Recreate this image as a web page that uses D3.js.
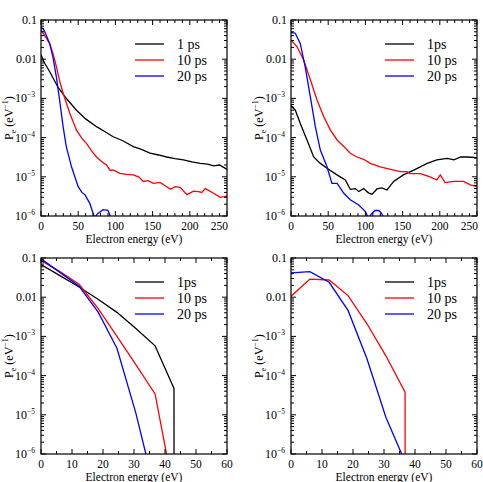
<!DOCTYPE html>
<html>
<head>
<meta charset="utf-8">
<script src="https://cdn.jsdelivr.net/npm/d3@7"></script>
<style>
  body { margin: 0; background: #fff; }
</style>
</head>
<body>
<svg id="chart" width="483" height="482" font-family="'Liberation Serif', 'Times New Roman', serif"></svg>
<script>
// series: [energy (eV), P_e (eV^-1)]
var seriesNames = ["1 ps", "10 ps", "20 ps"];
var seriesNames2 = ["1ps", "10 ps", "20 ps"];
var colors = ["#000000", "#ff0000", "#0000ff"];

var yTickValues = [1e-6, 1e-5, 1e-4, 1e-3, 0.01, 0.1];
var yTickLabels = ["10-6", "10-5", "10-4", "10-3", "0.01", "0.1"];

// panel a (top left)
var a_1ps = [[0,0.0129],[5,0.0079],[11.7,0.0048],[23,0.0019],[35,0.00095],[47.7,5.0e-4],[60,3.0e-4],[74.6,1.9e-4],[85,1.45e-4],[97,1.05e-4],[110,8.3e-5],[124,5.9e-5],[135,5.0e-5],[146.6,4.0e-5],[158,3.6e-5],[169,3.2e-5],[180,2.9e-5],[191.5,2.7e-5],[203,2.4e-5],[214,2.2e-5],[224,2.1e-5],[232,1.9e-5],[240,2.0e-5],[250,1.55e-5]];
var a_10ps = [[0,0.056],[5,0.040],[11.7,0.025],[16,0.014],[20.7,0.0065],[25,0.0028],[29.7,0.00135],[38.7,4.2e-4],[47.7,1.55e-4],[55,9.5e-5],[61,7.1e-5],[68,4.6e-5],[74.6,3.2e-5],[81,2.5e-5],[88,2.0e-5],[93,1.45e-5],[97,1.5e-5],[106,1.23e-5],[115,1.15e-5],[124,1.12e-5],[131,1.0e-5],[137.6,7.6e-6],[144,8.0e-6],[151,6.8e-6],[160,7.2e-6],[169,5.6e-6],[174,4.8e-6],[180,5.6e-6],[187,5.4e-6],[196,3.5e-6],[205,4.3e-6],[212,4.2e-6],[216,4.0e-6],[221,5.0e-6],[232,3.8e-6],[241,3.0e-6],[250,3.2e-6]];
var a_20ps = [[0,0.068],[4,0.055],[7.2,0.040],[11.7,0.025],[16,0.0115],[20.7,0.0035],[25,9.1e-4],[29.7,1.9e-4],[34,5.9e-5],[41,1.8e-5],[50,5.6e-6],[55,4.0e-6],[59,3.5e-6],[65.6,2.1e-6],[72,9.0e-7],[76,1.15e-6],[83.6,1.45e-6],[90,1.4e-6],[93,1.0e-6],[96,5e-7]];

// panel b (top right)
var b_1ps = [[0,6.5e-4],[5.8,5.0e-4],[12.5,2.3e-4],[21.5,8.7e-5],[30.5,3.2e-5],[39.4,2.2e-5],[48.4,1.66e-5],[61.8,1.12e-5],[73,8.3e-6],[79.7,4.8e-6],[86.5,5.0e-6],[91,4.2e-6],[97.7,5.0e-6],[104,3.9e-6],[109,3.6e-6],[115.6,4.9e-6],[122,5.2e-6],[129,4.6e-6],[138,7.6e-6],[151,1.12e-5],[165,1.48e-5],[183,2.2e-5],[196,2.7e-5],[210,2.95e-5],[219,2.7e-5],[228,3.2e-5],[236.5,3.2e-5],[250,3.1e-5]];
var b_10ps = [[0,0.031],[8,0.021],[17,0.0095],[26,0.0030],[35,9.1e-4],[44,3.4e-4],[53,1.55e-4],[62,8.7e-5],[71,5.9e-5],[79.7,4.0e-5],[88.7,3.2e-5],[97.7,2.8e-5],[106.6,2.2e-5],[120,1.8e-5],[134,1.55e-5],[147,1.35e-5],[156,1.35e-5],[160,1.2e-5],[174,1.2e-5],[187,1.0e-5],[196,8.3e-6],[200.7,1.12e-5],[207,7.1e-6],[218.6,7.6e-6],[232,7.6e-6],[241,6.2e-6],[250,5.6e-6]];
var b_20ps = [[0,0.048],[5.8,0.046],[12.5,0.025],[19,0.0065],[26,0.0011],[32.7,1.9e-4],[39.4,4.8e-5],[48.4,1.8e-5],[55,6.8e-6],[62,6.8e-6],[71,3.8e-6],[79.7,2.6e-6],[91,1.9e-6],[100,1.3e-6],[104,9.0e-7],[109,1.18e-6],[113,1.38e-6],[118,1.38e-6],[122,1.15e-6],[125,8e-7]];

// panel c (bottom left)
var c_1ps = [[0,0.068],[6.1,0.0355],[12.3,0.0182],[18.4,0.0089],[24.5,0.0041],[30.6,0.0016],[36.8,5.75e-4],[42.9,4.7e-5],[42.95,1e-12]];
var c_10ps = [[0,0.087],[6.1,0.045],[12.3,0.0214],[18.4,0.0052],[24.5,0.0010],[30.6,1.9e-4],[36.8,3.4e-5],[42.9,1e-7]];
var c_20ps = [[0,0.095],[6.1,0.043],[12.3,0.019],[18.4,0.0042],[24.5,5.0e-4],[30.6,1.1e-5],[36.8,1.1e-7]];

// panel d (bottom right) - no 1 ps curve shown
var d_1ps = [];
var d_10ps = [[0,0.0106],[6.1,0.029],[12.3,0.0275],[18.4,0.011],[24.5,0.0021],[30.6,3.2e-4],[36.8,3.8e-5],[36.85,1e-12]];
var d_20ps = [[0,0.0417],[6.1,0.045],[12.3,0.024],[18.4,0.0046],[24.5,2.7e-4],[30.6,8.7e-6],[36.8,6.3e-7]];

var panels = [
  {left: 41, top: 20, xmax: 250, major: 50, minor: 10, names: seriesNames, data: [a_1ps, a_10ps, a_20ps]},
  {left: 291, top: 20, xmax: 250, major: 50, minor: 10, names: seriesNames2, data: [b_1ps, b_10ps, b_20ps]},
  {left: 41, top: 258, xmax: 60, major: 10, minor: 5, names: seriesNames2, data: [c_1ps, c_10ps, c_20ps]},
  {left: 291, top: 258, xmax: 60, major: 10, minor: 5, names: seriesNames2, data: [d_1ps, d_10ps, d_20ps]}
];
var pw = 186, ph = 196;

var svg = d3.select("#chart");

panels.forEach(function(p, pi) {
  var g = svg.append("g").attr("transform", "translate(" + p.left + "," + p.top + ")");

  var x = d3.scaleLinear().domain([0, p.xmax]).range([0, pw]);
  var y = d3.scaleLog().domain([1e-6, 0.1]).range([ph, 0]);

  var xMajor = d3.range(0, p.xmax + 0.001, p.major);
  var xMinor = d3.range(0, p.xmax + 0.001, p.minor).filter(function(v) { return v % p.major != 0; });
  var yMinor = [];
  for (var e = -6; e < -1; e++) {
    for (var k = 2; k <= 9; k++) yMinor.push(k * Math.pow(10, e));
  }

  // clip
  svg.append("clipPath").attr("id", "clip" + pi)
    .append("rect").attr("width", pw).attr("height", ph);

  // curves
  var line = d3.line()
    .x(function(d) { return x(d[0]); })
    .y(function(d) { return y(d[1]); });

  p.data.forEach(function(s, si) {
    if (!s.length) return;
    g.append("path")
      .attr("clip-path", "url(#clip" + pi + ")")
      .attr("d", line(s))
      .attr("fill", "none")
      .attr("stroke", colors[si])
      .attr("stroke-width", 1.3);
  });

  // ticks inside, all four sides
  var ticks = g.append("g").attr("stroke", "#000").attr("stroke-width", 1);
  xMajor.forEach(function(v) {
    ticks.append("line").attr("x1", x(v)).attr("x2", x(v)).attr("y1", ph).attr("y2", ph - 5);
    ticks.append("line").attr("x1", x(v)).attr("x2", x(v)).attr("y1", 0).attr("y2", 5);
  });
  xMinor.forEach(function(v) {
    ticks.append("line").attr("x1", x(v)).attr("x2", x(v)).attr("y1", ph).attr("y2", ph - 3);
    ticks.append("line").attr("x1", x(v)).attr("x2", x(v)).attr("y1", 0).attr("y2", 3);
  });
  yTickValues.forEach(function(v) {
    ticks.append("line").attr("x1", 0).attr("x2", 5).attr("y1", y(v)).attr("y2", y(v));
    ticks.append("line").attr("x1", pw).attr("x2", pw - 5).attr("y1", y(v)).attr("y2", y(v));
  });
  yMinor.forEach(function(v) {
    ticks.append("line").attr("x1", 0).attr("x2", 3).attr("y1", y(v)).attr("y2", y(v));
    ticks.append("line").attr("x1", pw).attr("x2", pw - 3).attr("y1", y(v)).attr("y2", y(v));
  });

  // frame
  g.append("rect").attr("width", pw).attr("height", ph)
    .attr("fill", "none").attr("stroke", "#000").attr("stroke-width", 1.2);

  // x tick labels (the 3-digit end label is pulled inside, as in the original)
  g.selectAll(".xl").data(xMajor).enter().append("text")
    .attr("x", function(d) { return (d == p.xmax && d >= 100) ? x(d) + 1 : x(d); })
    .attr("y", ph + 14)
    .attr("text-anchor", function(d) { return (d == p.xmax && d >= 100) ? "end" : "middle"; })
    .attr("font-size", 11.5)
    .text(function(d) { return d; });

  // y tick labels
  yTickValues.forEach(function(v, i) {
    var lab = yTickLabels[i];
    var t = g.append("text")
      .attr("y", y(v) + 4)
      .attr("text-anchor", "end")
      .attr("font-size", 12);
    if (lab.indexOf("-") < 0) {
      t.attr("x", -4).text(lab);
    } else {
      t.attr("x", -6);
      t.append("tspan").text(lab.slice(0, 2));
      t.append("tspan").attr("dy", -5).attr("font-size", 7.5).text("\u2212" + lab.slice(3));
    }
  });

  // axis titles
  g.append("text")
    .attr("x", pw / 2).attr("y", ph + 26.5)
    .attr("text-anchor", "middle")
    .attr("font-size", 11.5)
    .text("Electron energy (eV)");

  var yl = g.append("text")
    .attr("transform", "translate(-28," + (ph / 2) + ") rotate(-90)")
    .attr("text-anchor", "middle")
    .attr("font-size", 12);
  yl.append("tspan").text("P");
  yl.append("tspan").attr("dy", 3).attr("font-size", 8).text("e");
  yl.append("tspan").attr("dy", -3).text(" (eV");
  yl.append("tspan").attr("dy", -5).attr("font-size", 8).text("\u22121");
  yl.append("tspan").attr("dy", 5).text(")");

  // legend
  p.names.forEach(function(n, i) {
    var ly = 24 + i * 16;
    g.append("line")
      .attr("x1", 94).attr("x2", 123)
      .attr("y1", ly).attr("y2", ly)
      .attr("stroke", colors[i]).attr("stroke-width", 1.3);
    g.append("text")
      .attr("x", 136).attr("y", ly + 5)
      .attr("font-size", 14)
      .text(n);
  });
});
</script>
</body>
</html>
